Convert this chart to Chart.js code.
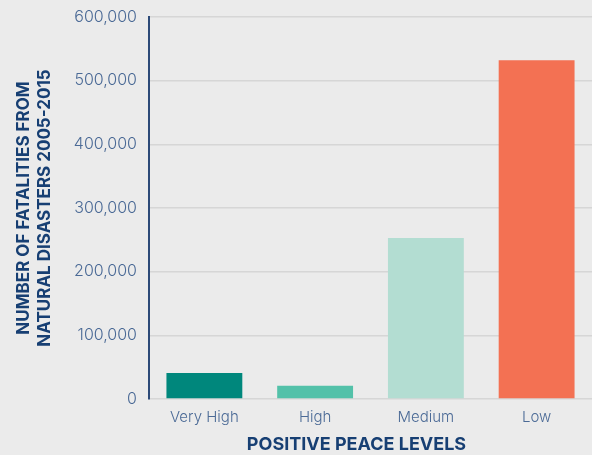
<!DOCTYPE html>
<html>
<head>
<meta charset="utf-8">
<script src="https://cdn.jsdelivr.net/npm/chart.js@4/dist/chart.umd.min.js"></script>
<style>
  html, body { margin: 0; padding: 0; background: #ebebeb; }
  #wrap { width: 592px; height: 455px; position: relative; }
</style>
</head>
<body>
<div id="wrap"><canvas id="chart"></canvas></div>
<script>
//-------------------Data-------------------
const levels = ['Very High', 'High', 'Medium', 'Low'];
const fatalities = [41000, 21000, 253000, 532000];
const barColors = ['#00877c', '#53c1a9', '#b3ddd2', '#f37153'];
const yTitle = ['NUMBER OF FATALITIES FROM', 'NATURAL DISASTERS 2005-2015'];
const xTitle = 'POSITIVE PEACE LEVELS';

//-------------------Chart-------------------
const tickColor = '#4b6a96';
const titleColor = '#173f73';
const fam = 'Inter';

//x title sits a bit left of the plot centre in the original, so draw it by hand
const xTitlePlugin = {
  id: 'xTitle',
  afterDraw(chart) {
    const c = chart.ctx;
    const area = chart.chartArea;
    c.save();
    c.font = 'bold 18px ' + fam;
    c.fillStyle = titleColor;
    c.textAlign = 'center';
    c.textBaseline = 'middle';
    c.fillText(xTitle, (area.left + area.right) / 2 - 14, chart.height - 10);
    c.restore();
  }
};

const ctx = document.getElementById('chart').getContext('2d');
const chart = new Chart(ctx, {
  type: 'bar',
  data: {
    labels: levels,
    datasets: [{
      data: fatalities,
      backgroundColor: barColors,
      borderWidth: 0,
      barPercentage: 0.685,
      categoryPercentage: 1
    }]
  },
  options: {
    responsive: true,
    maintainAspectRatio: false,
    animation: false,
    layout: { padding: { top: 17, right: 0, left: 0, bottom: 0 } },
    plugins: {
      legend: { display: false },
      tooltip: { enabled: false }
    },
    scales: {
      x: {
        grid: { display: false, drawTicks: false },
        border: { display: false },
        ticks: {
          color: tickColor,
          padding: 9,
          font: { family: fam, size: 15, weight: 300 }
        },
        afterFit: (scale) => { scale.height = 56; }
      },
      y: {
        min: 0,
        max: 600000,
        grid: { color: '#d6d6d6', lineWidth: 1.5, drawTicks: false },
        border: { display: true, color: '#2c4a78', width: 2 },
        ticks: {
          stepSize: 100000,
          color: tickColor,
          padding: 12,
          font: { family: fam, size: 16, weight: 300 },
          callback: (v) => v.toLocaleString('en-US')
        },
        title: {
          display: true,
          text: yTitle,
          color: titleColor,
          padding: { top: 14, bottom: 0 },
          font: { family: fam, size: 17, weight: 'bold', lineHeight: 1.2 }
        },
        afterFit: (scale) => {
          scale.width = 149;
          //don't let the top label push the plot down
          scale.paddingTop = 0;
          scale.paddingBottom = 0;
        }
      }
    }
  },
  plugins: [xTitlePlugin]
});
</script>
</body>
</html>
